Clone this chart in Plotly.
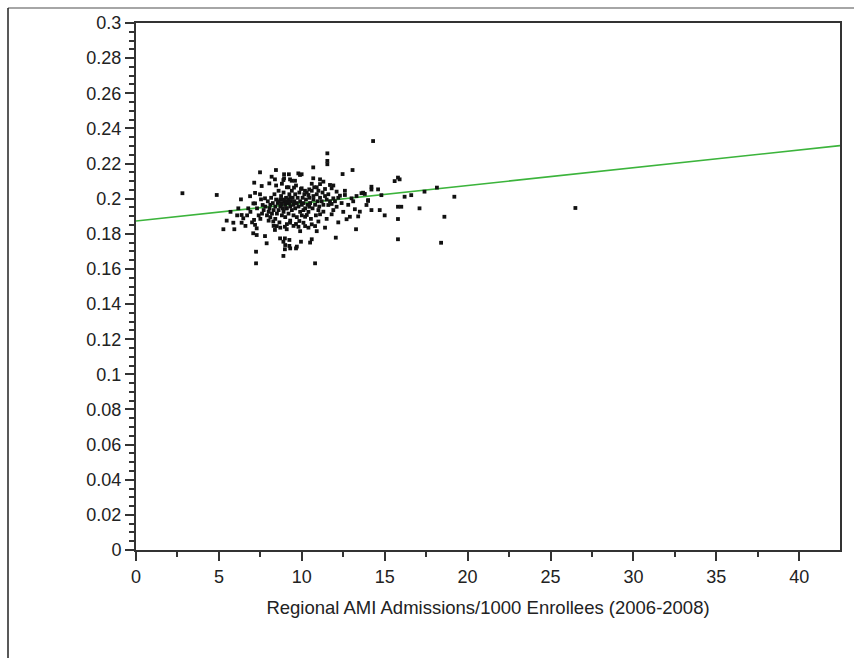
import plotly.graph_objects as go

# ---- data ----
outer_pts = [
    (2.8,0.2031),(4.87,0.2021),(14.3,0.2328),(26.5,0.1947),(19.2,0.2011),(18.15,0.2063),(18.6,0.1897),
    (18.4,0.1749),(15.8,0.1769),(15.8,0.1884),(17.1,0.1945),(15.8,0.1954),(16.0,0.1954),(15.0,0.1905),
    (14.7,0.1935),(14.2,0.1935),(13.9,0.1964),(14.0,0.1987),(13.8,0.2027),(14.0,0.1992),(14.8,0.202),
    (16.2,0.2011),(16.6,0.202),(17.4,0.204),(15.6,0.210),(15.8,0.212),(15.9,0.211),(14.2,0.2068),
    (14.2,0.2052),(14.6,0.2053),(13.7,0.2034),
    (7.48,0.215),(7.13,0.2091),(7.58,0.2072),(8.04,0.2087),(6.33,0.1996),(6.88,0.2014),(7.18,0.2033),
    (7.48,0.2025),(7.54,0.1996),(7.78,0.2002),(7.08,0.1973),
    (11.54,0.2258),(11.54,0.2196),(11.54,0.2215),(10.69,0.2178),(8.44,0.2163),(12.46,0.214),(13.06,0.2163),
    (8.93,0.2139),(9.22,0.2139),(9.79,0.2144),(9.99,0.2139),(8.18,0.2125),(8.93,0.2116),(9.29,0.211),
    (10.69,0.2116),(9.59,0.2102),(8.38,0.211),(11.1,0.211),(11.3,0.2097),(11.7,0.2078),(9.53,0.2063),
    (9.99,0.2059),(10.19,0.2045),(10.45,0.2053),(10.9,0.2065),(11.1,0.2083),(11.8,0.2059),(12.1,0.204),
    (12.3,0.2017),(12.6,0.2021),(13.0,0.2002),(13.6,0.2031),(11.9,0.2002),(11.4,0.2015),(10.7,0.2015),
    (10.4,0.2021),(8.89,0.2106),(9.39,0.2102),(9.89,0.2135),
    (6.17,0.1945),(6.77,0.1945),(5.47,0.1875),(5.87,0.1863),(5.27,0.1826),(5.93,0.1826),(6.37,0.1907),
    (6.47,0.1888),(6.37,0.1863),(7.12,0.1879),(7.18,0.1851),(7.28,0.1831),(7.07,0.1803),(7.28,0.1793),
    (7.78,0.1787),(7.88,0.1746),(7.24,0.1698),(7.24,0.1632),(7.64,0.1964),(7.18,0.1973),
    (8.89,0.1674),(10.8,0.1632),(8.98,0.1712),(9.25,0.1731),(9.65,0.1717),(8.69,0.1774),(8.89,0.1755),
    (8.98,0.1774),(9.25,0.1765),(9.95,0.1755),(10.5,0.175),(10.6,0.1769),(12.05,0.1778),(13.27,0.1826),
    (11.4,0.1835),(12.7,0.1883),(12.9,0.1897),(13.4,0.1899),(13.5,0.1926),(13.2,0.194),(11.0,0.187),
    (10.8,0.1844),(10.6,0.1854),(10.1,0.1863),(9.85,0.1873),(10.2,0.1844),(9.8,0.184),(9.65,0.1856),
    (9.29,0.1863),(8.38,0.1822),(8.49,0.1844),(8.28,0.187),(8.98,0.184),(9.09,0.1826),(11.1,0.1911),
    (11.3,0.1926),(11.0,0.1935),(11.8,0.1911),(11.9,0.1935),(12.1,0.1954),(11.8,0.197),(11.6,0.1964),
    (10.3,0.1907),(10.2,0.1897),(10.45,0.1954),(10.1,0.1935),(9.3,0.1717),(9.7,0.1727),(9.0,0.1736),
]
core_pts = [
    (7.6,0.1915),(7.7,0.1935),(7.8,0.1955),(7.9,0.1905),(7.95,0.1985),(8.0,0.1925),(8.05,0.1945),
    (8.1,0.1965),(8.1,0.1895),(8.15,0.2005),(8.2,0.1915),(8.25,0.1975),(8.3,0.1935),(8.35,0.2025),
    (8.4,0.1955),(8.4,0.1885),(8.45,0.1995),(8.5,0.1915),(8.55,0.1975),(8.6,0.2045),(8.6,0.1935),
    (8.65,0.1865),(8.7,0.1995),(8.7,0.1955),(8.75,0.2015),(8.8,0.1905),(8.8,0.1975),(8.85,0.1945),
    (8.9,0.2035),(8.9,0.1925),(8.95,0.1985),(9.0,0.1965),(9.0,0.1895),(9.05,0.2005),(9.1,0.1945),
    (9.1,0.2065),(9.15,0.1975),(9.2,0.1915),(9.2,0.1995),(9.25,0.2025),(9.3,0.1955),(9.3,0.1875),
    (9.35,0.1985),(9.4,0.1935),(9.4,0.2045),(9.45,0.2005),(9.5,0.1965),(9.5,0.1905),(9.55,0.1985),
    (9.6,0.2025),(9.6,0.1945),(9.65,0.2075),(9.7,0.1975),(9.7,0.1895),(9.75,0.2005),(9.8,0.1955),
    (9.85,0.2035),(9.9,0.1925),(9.9,0.1985),(9.95,0.2055),(10.0,0.1965),(10.0,0.1905),(10.05,0.2005),
    (10.1,0.1975),(10.15,0.2025),(10.2,0.1945),(10.25,0.1995),(10.3,0.2035),(10.35,0.1965),(10.4,0.1925),
    (10.45,0.2005),(10.5,0.1975),(10.55,0.1885),(10.6,0.2045),(10.65,0.1945),(10.7,0.1995),(10.75,0.2065),
    (10.8,0.1965),(10.85,0.1905),(10.9,0.2025),(10.95,0.1985),(11.0,0.2045),(11.05,0.1955),(11.1,0.2005),
    (11.2,0.1985),(11.25,0.2035),(11.3,0.1965),(11.4,0.2055),(11.5,0.1995),(11.6,0.2025),(11.7,0.1985),
    (12.0,0.1985),(12.2,0.2005),(12.4,0.1975),(12.5,0.1925),(12.8,0.1965),(13.1,0.1985),(8.3,0.1845),
    (8.7,0.1835),(9.1,0.1855),(9.5,0.1845),(9.9,0.1815),(10.4,0.1835),(10.9,0.1815),(11.5,0.1885),
    (12.2,0.1865),(8.0,0.1875),(7.5,0.1885),(7.4,0.1905),(7.3,0.1945),(6.9,0.1925),(6.7,0.1905),
    (7.0,0.1865),(6.6,0.1845),(6.1,0.1905),(5.7,0.1925),(8.45,0.2075),(8.8,0.2085),(9.2,0.2065),
    (10.6,0.2085),(11.9,0.2075),(12.6,0.2045),(13.3,0.2015),
    (8.6,0.1985),(8.9,0.1995),(9.1,0.1985),(9.3,0.2005),(8.75,0.1965),(9.05,0.1945),(9.25,0.1975),
]
x_vals = [p[0] for p in outer_pts + core_pts]
y_vals = [p[1] for p in outer_pts + core_pts]

fit_intercept = 0.1873
fit_slope = 0.00101
x_max = 42.46
fit_x = [0, x_max]
fit_y = [fit_intercept + fit_slope * v for v in fit_x]

x_title = "Regional AMI Admissions/1000 Enrollees (2006-2008)"

# ---- figure ----
W, H = 854, 658
ml, mr, mt, mb = 136, 14, 23, 108
pw, ph = W - ml - mr, H - mt - mb
FONT = "Liberation Sans, Arial, sans-serif"

fig = go.Figure()
fig.add_trace(go.Scatter(x=fit_x, y=fit_y, mode="lines",
                         line=dict(color="#3cb43c", width=1.6), hoverinfo="skip"))
fig.add_trace(go.Scatter(x=x_vals, y=y_vals, mode="markers",
                         marker=dict(symbol="square", size=3.8, color="#111111",
                                     line=dict(width=0))))

axis_common = dict(showgrid=False, zeroline=False, showline=True, linecolor="#333333",
                   linewidth=2, mirror=True, ticks="outside", ticklen=9, tickwidth=1.5,
                   tickcolor="#333333",
                   tickfont=dict(family=FONT, size=18, color="#222222"))

fig.update_layout(
    width=W, height=H, showlegend=False,
    margin=dict(l=ml, r=mr, t=mt, b=mb, pad=0),
    paper_bgcolor="white", plot_bgcolor="white",
    xaxis=dict(range=[0, x_max], dtick=5, tick0=0, **axis_common,
               minor=dict(dtick=2.5, ticklen=5, tickwidth=1.5, tickcolor="#333333", ticks="outside"),
               title=dict(text=x_title, standoff=15,
                          font=dict(family=FONT, size=18.5, color="#222222"))),
    yaxis=dict(range=[0, 0.3], dtick=0.02, tick0=0, **axis_common,
               minor=dict(dtick=0.005, ticklen=5, tickwidth=1.5, tickcolor="#333333", ticks="outside")),
)

# outer frame lines of the original image
def px_to_paper_x(px):
    return (px - ml) / pw

def px_to_paper_y(py):
    return (H - mb - py) / ph

fig.add_shape(type="line", xref="paper", yref="paper",
              x0=px_to_paper_x(8), x1=px_to_paper_x(W), y0=px_to_paper_y(8), y1=px_to_paper_y(8),
              line=dict(color="#888888", width=1.5))
fig.add_shape(type="line", xref="paper", yref="paper",
              x0=px_to_paper_x(8), x1=px_to_paper_x(8), y0=px_to_paper_y(8), y1=px_to_paper_y(H),
              line=dict(color="#222222", width=1.5))

fig.write_html("out.html")
